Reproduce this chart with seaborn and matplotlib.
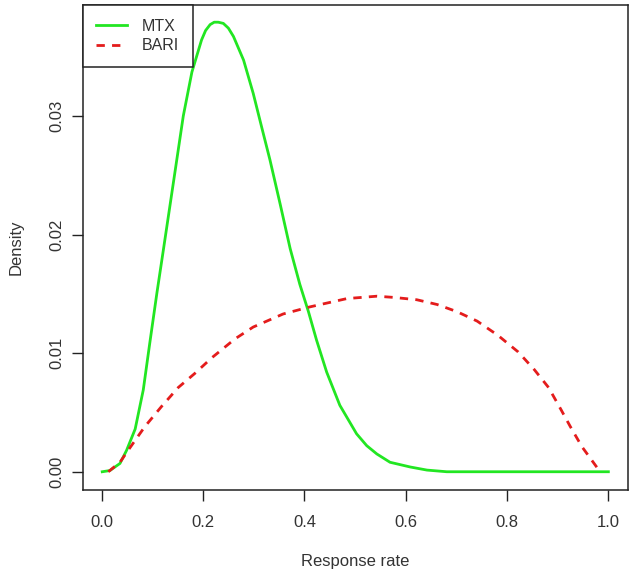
import numpy as np
import pandas as pd
import matplotlib
matplotlib.use("Agg")
import matplotlib.pyplot as plt
import seaborn as sns

# values
mtx_x = [0.001, 0.016, 0.036, 0.049, 0.066, 0.082, 0.095, 0.109, 0.122, 0.145,
         0.161, 0.178, 0.197, 0.205, 0.214, 0.222, 0.230, 0.240, 0.250, 0.260,
         0.280, 0.299, 0.316, 0.332, 0.352, 0.372, 0.391, 0.408, 0.424, 0.444,
         0.470, 0.503, 0.523, 0.543, 0.569, 0.609, 0.642, 0.681, 0.8, 0.9, 1.0]
mtx_y = [0.0, 0.0001, 0.0007, 0.0018, 0.0036, 0.0069, 0.0109, 0.0151, 0.0188, 0.0254,
         0.0300, 0.0337, 0.0364, 0.0372, 0.0377, 0.0379, 0.0379, 0.0378, 0.0374, 0.0367,
         0.0347, 0.0319, 0.0290, 0.0263, 0.0226, 0.0188, 0.0158, 0.0135, 0.0111, 0.0084,
         0.0056, 0.0032, 0.0022, 0.0015, 0.0008, 0.0004, 0.00014, 0.0, 0.0, 0.0, 0.0]

bari_x = [0.013, 0.036, 0.052, 0.085, 0.118, 0.151, 0.184, 0.217, 0.263, 0.299,
          0.358, 0.411, 0.484, 0.543, 0.576, 0.622, 0.662, 0.701, 0.741, 0.782,
          0.822, 0.854, 0.882, 0.907, 0.925, 0.948, 0.982]
bari_y = [0.0, 0.0008, 0.0018, 0.0038, 0.0055, 0.0071, 0.0083, 0.0096, 0.0112, 0.0122,
          0.0133, 0.0139, 0.0146, 0.0148, 0.0147, 0.0145, 0.0141, 0.0135, 0.0127, 0.0115,
          0.0101, 0.0086, 0.0071, 0.0052, 0.0038, 0.0021, 0.0001]

x_ticks = [0.0, 0.2, 0.4, 0.6, 0.8, 1.0]
y_ticks = [0.00, 0.01, 0.02, 0.03]

df = pd.concat([
    pd.DataFrame({"rate": mtx_x, "density": mtx_y, "group": "MTX"}),
    pd.DataFrame({"rate": bari_x, "density": bari_y, "group": "BARI"}),
], ignore_index=True)

plt.rcParams['font.family'] = ['Liberation Sans', 'DejaVu Sans']

fig = plt.figure(figsize=(6.33, 5.75), dpi=100)
ax = fig.add_axes([0.1307, 0.1478, 0.862, 0.8435])

sns.lineplot(data=df, x="rate", y="density", hue="group", style="group",
             palette={"MTX": "#22e622", "BARI": "#e41c1c"},
             dashes={"MTX": "", "BARI": (3.0, 2.6)},
             linewidth=2.0, sort=False, ax=ax)

ax.set_xlim(-0.0375, 1.0395)
ax.set_ylim(-0.00154, 0.03935)
ax.set_xticks(x_ticks)
ax.set_xticklabels([f"{v:.1f}" for v in x_ticks], fontsize=12, color="#333333")
ax.set_yticks(y_ticks)
ax.set_yticklabels([f"{v:.2f}" for v in y_ticks], fontsize=12, rotation=90,
                   va="center", color="#333333")
ax.tick_params(direction="out", length=8, width=1, color="#222222")
ax.tick_params(axis="x", pad=10)
ax.tick_params(axis="y", pad=5)
for s in ax.spines.values():
    s.set_linewidth(1.1)
    s.set_color("#222222")

ax.set_xlabel("Response rate", fontsize=12, color="#333333", va="center")
ax.set_ylabel("Density", fontsize=12, color="#333333", va="center")
ax.xaxis.set_label_coords(0.5, -0.148)
ax.yaxis.set_label_coords(-0.122, 0.5)

leg = ax.legend(loc="upper left", fontsize=11.5, frameon=True, fancybox=False,
                borderaxespad=0, handlelength=1.9, handletextpad=0.95,
                borderpad=0.85, labelspacing=0.3)
leg.get_frame().set_edgecolor("#222222")
leg.get_frame().set_linewidth(1.1)
leg.get_frame().set_alpha(1)
for t in leg.get_texts():
    t.set_color("#333333")
for h in leg.get_lines():
    h.set_linewidth(2.0)

fig.savefig("out.png", dpi=100)
